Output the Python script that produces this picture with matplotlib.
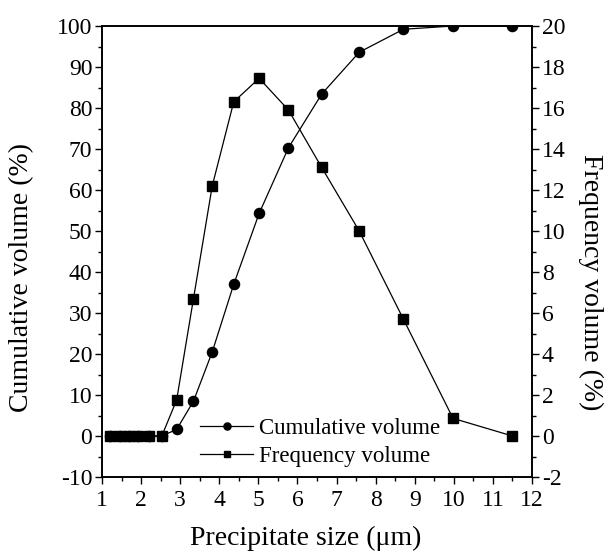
import matplotlib
matplotlib.use("Agg")
import matplotlib.pyplot as plt
from matplotlib.ticker import MultipleLocator

plt.rcParams['font.family'] = ['Liberation Serif', 'DejaVu Serif']
plt.rcParams['mathtext.fontset'] = 'stix'
plt.rcParams['axes.unicode_minus'] = False

size = [1.2, 1.45, 1.7, 1.93, 2.21, 2.53, 2.91, 3.34, 3.82, 4.37, 5.02, 5.77, 6.62, 7.58, 8.71, 9.98, 11.5]
cumulative = [0, 0, 0, 0, 0, 0, 1.6, 8.5, 20.5, 37.0, 54.3, 70.3, 83.4, 93.6, 99.2, 100, 100]
frequency = [0, 0, 0, 0, 0, 0, 1.76, 6.7, 12.2, 16.3, 17.45, 15.9, 13.1, 10.0, 5.7, 0.86, 0]

fig = plt.figure(figsize=(6.13, 5.6), dpi=100)
ax = fig.add_axes([102/613, 1 - 477/560, 430/613, 451/560])
ax2 = ax.twinx()

l1, = ax.plot(size, cumulative, '-o', color='black', lw=0.9, ms=7.3, label='Cumulative volume')
l2, = ax2.plot(size, frequency, '-s', color='black', lw=0.9, ms=6.5, label='Frequency volume')

ax.set_xlim(1, 12)
ax.set_ylim(-10, 100)
ax2.set_ylim(-2, 20)
ax.xaxis.set_major_locator(MultipleLocator(1))
ax.xaxis.set_minor_locator(MultipleLocator(0.5))
ax.yaxis.set_major_locator(MultipleLocator(10))
ax.yaxis.set_minor_locator(MultipleLocator(5))
ax2.yaxis.set_major_locator(MultipleLocator(2))
ax2.yaxis.set_minor_locator(MultipleLocator(1))

fs = 17
for a in (ax, ax2):
    a.tick_params(which='major', direction='out', length=5, width=1, labelsize=fs, pad=2)
    a.tick_params(which='minor', direction='out', length=3, width=1)
    for s in a.spines.values():
        s.set_linewidth(1.2)
ax.tick_params(axis='x', which='major', pad=4)

lfs = 20
ax.set_xlabel('Precipitate size (μm)', fontsize=lfs)
ax.xaxis.set_label_coords((306 - 102) / 430, -(526 - 477) / 451)
ax.set_ylabel('Cumulative volume (%)', fontsize=lfs)
ax.yaxis.set_label_coords(-(102 - 34) / 430, (477 - 278) / 451)
ax2.set_ylabel('Frequency volume (%)', fontsize=lfs, rotation=270, va='center')
ax2.yaxis.set_label_coords((591 - 102) / 430, (477 - 282) / 451)

leg = ax.legend([l1, l2], ['Cumulative volume', 'Frequency volume'], loc='lower left',
                bbox_to_anchor=((189 - 102) / 430, (477 - 478) / 451), frameon=False, fontsize=16.5,
                handlelength=2.3, handletextpad=0.25, labelspacing=0.3, markerscale=0.7,
                borderpad=0.0)

fig.savefig('out.png', dpi=100)
